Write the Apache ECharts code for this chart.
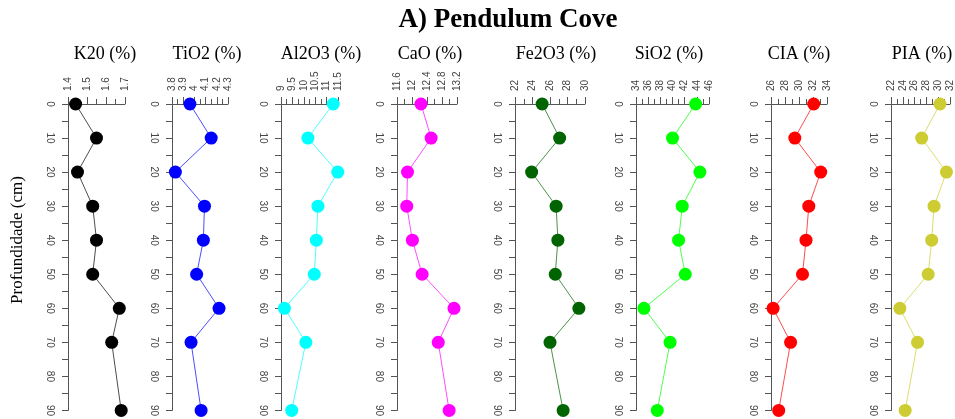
<!DOCTYPE html>
<html>
<head>
<meta charset="utf-8">
<script src="https://cdn.jsdelivr.net/npm/echarts@6/dist/echarts.min.js"></script>
<style>
  html, body { margin: 0; padding: 0; background: #fff; }
  #chart { width: 955px; height: 419px; }
</style>
</head>
<body>
<div id="chart"></div>
<script>
// profundidade (cm)
var depths = [0, 10, 20, 30, 40, 50, 60, 70, 90];

var k2o   = [1.44, 1.55, 1.45, 1.53, 1.55, 1.53, 1.67, 1.63, 1.68];
var tio2  = [3.96, 4.15, 3.83, 4.09, 4.08, 4.02, 4.22, 3.97, 4.06];
var al2o3 = [11.29, 10.18, 11.49, 10.62, 10.55, 10.46, 9.15, 10.09, 9.47];
var cao   = [12.24, 12.51, 11.88, 11.86, 12.01, 12.27, 13.12, 12.70, 12.99];
var fe2o3 = [25.1, 27.1, 23.9, 26.7, 26.9, 26.6, 29.3, 26.0, 27.5];
var sio2  = [43.8, 40.0, 44.5, 41.6, 41.0, 42.1, 35.3, 39.6, 37.5];
var cia   = [32.1, 29.4, 33.1, 31.4, 31.0, 30.5, 26.3, 28.8, 27.1];
var pia   = [30.3, 27.2, 31.4, 29.3, 28.9, 28.3, 23.5, 26.5, 24.4];

var names  = ["K20 (%)", "TiO2 (%)", "Al2O3 (%)", "CaO (%)", "Fe2O3 (%)", "SiO2 (%)", "CIA (%)", "PIA (%)"];
var values = [k2o, tio2, al2o3, cao, fe2o3, sio2, cia, pia];
var colors = ["#000000", "#0000ff", "#00ffff", "#ff00ff", "#006400", "#00ff00", "#ff0000", "#cdcd33"];
var mins   = [1.4, 3.8, 9, 11.6, 22, 34, 26, 22];
var maxs   = [1.7, 4.3, 11.5, 13.2, 30, 46, 34, 32];
var steps  = [0.1, 0.1, 0.5, 0.4, 2, 2, 2, 2];

// panel placement (px)
var lefts  = [68, 172, 281, 397, 515, 636, 771, 891];
var widths = [57, 56, 57, 60, 70, 73, 56, 60];
var titleX = [105, 207, 321, 430, 556, 669, 799, 922];

var chart = echarts.init(document.getElementById("chart"));

var grids = [], xAxes = [], yAxes = [], series = [], titles = [];
var axisColor = "#555";
var labelFont = { fontSize: 10, color: "#444", fontFamily: "Liberation Sans, Arial, sans-serif" };

for (var i = 0; i < 8; i++) {
  grids.push({ left: lefts[i], top: 104, width: widths[i], height: 307 });
  xAxes.push({
    gridIndex: i, type: "value", position: "top",
    min: mins[i], max: maxs[i], interval: steps[i],
    axisLine: { show: true, onZero: false, lineStyle: { color: axisColor, width: 1 } },
    axisTick: { show: true, length: 7, lineStyle: { color: axisColor } },
    minorTick: { show: true, splitNumber: 2, length: 5, lineStyle: { color: axisColor } },
    splitLine: { show: false },
    axisLabel: Object.assign({ rotate: -90, margin: 13, showMinLabel: true, showMaxLabel: true }, labelFont)
  });
  yAxes.push({
    gridIndex: i, type: "value", inverse: true,
    min: 0, max: 90, interval: 10,
    axisLine: { show: true, onZero: false, lineStyle: { color: axisColor, width: 1 } },
    axisTick: { show: true, length: 6, lineStyle: { color: axisColor } },
    minorTick: { show: true, splitNumber: 2, length: 6, lineStyle: { color: axisColor } },
    splitLine: { show: false },
    axisLabel: Object.assign({ rotate: -90, margin: 13 }, labelFont)
  });
  var pts = [];
  for (var j = 0; j < depths.length; j++) pts.push([values[i][j], depths[j]]);
  series.push({
    type: "line", xAxisIndex: i, yAxisIndex: i, data: pts,
    symbol: "circle", symbolSize: 13, clip: false,
    itemStyle: { color: colors[i] },
    lineStyle: { color: colors[i], width: 1, opacity: 0.7 }
  });
  titles.push({
    text: names[i], left: titleX[i], top: 45, textAlign: "center", padding: 0,
    textStyle: { fontFamily: "Liberation Serif, Times New Roman, serif", fontSize: 18, fontWeight: "normal", color: "#000" }
  });
}

titles.push({
  text: "A) Pendulum Cove", left: 508, top: 7, textAlign: "center", padding: 0,
  textStyle: { fontFamily: "Liberation Serif, Times New Roman, serif", fontSize: 27, fontWeight: "bold", color: "#000" }
});

chart.setOption({
  animation: false,
  title: titles,
  grid: grids,
  xAxis: xAxes,
  yAxis: yAxes,
  series: series,
  graphic: [{
    type: "text", x: 18, y: 240, rotation: Math.PI / 2,
    style: {
      text: "Profundidade (cm)", fill: "#000",
      font: "17px 'Liberation Serif', 'Times New Roman', serif",
      textAlign: "center", textVerticalAlign: "middle"
    }
  }]
});
</script>
</body>
</html>
